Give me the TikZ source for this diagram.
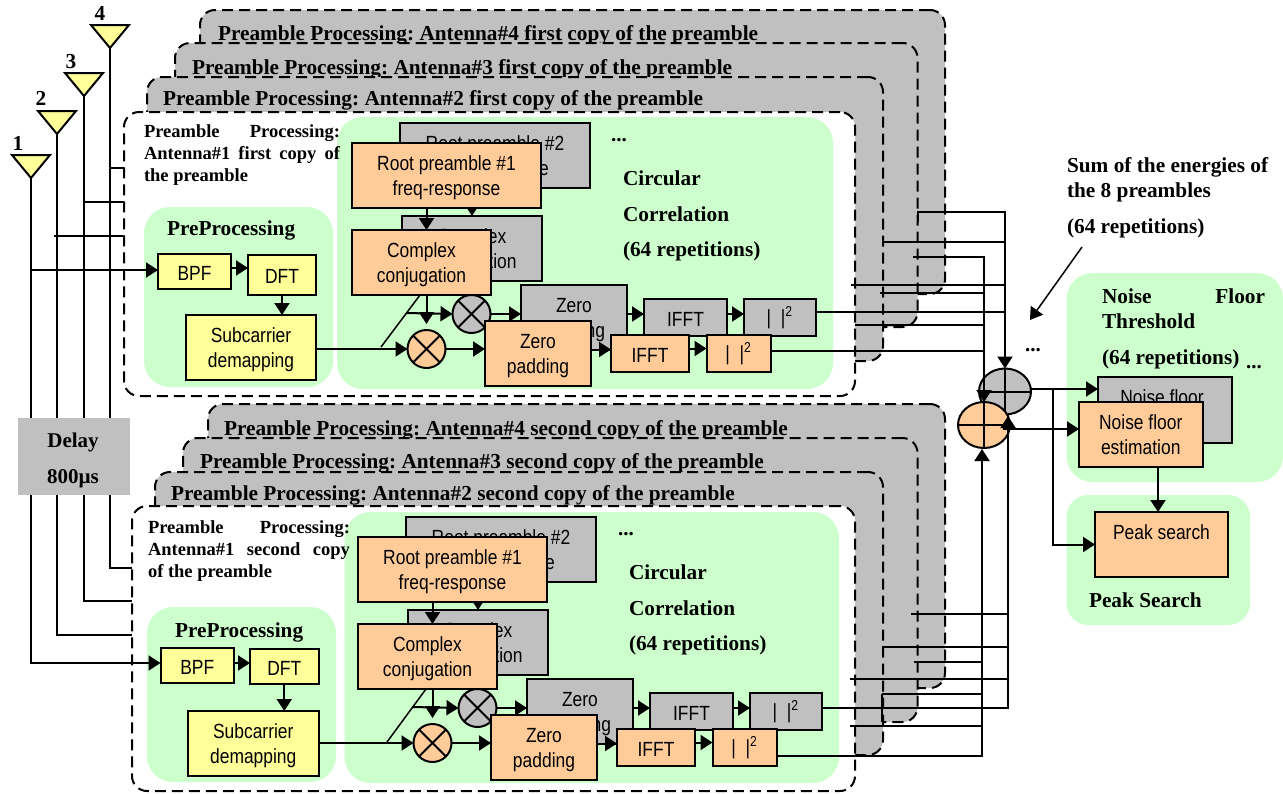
\documentclass[tikz,border=0pt]{standalone}
\usepackage{fontspec}
\setmainfont{Liberation Serif}
\newfontfamily\boxfont[FakeStretch=0.85]{Liberation Sans}
\usetikzlibrary{positioning,shapes,shapes.geometric,arrows.meta}
\definecolor{panelgrey}{HTML}{C0C0C0}
\definecolor{ltgreen}{HTML}{CCFFCC}
\definecolor{ltorange}{HTML}{FFCC99}
\definecolor{ltyellow}{HTML}{FFFF99}
\tikzset{>={Triangle[length=12pt,width=15pt]}}
\tikzset{
  panel/.style={draw,dash pattern=on 11pt off 6pt,fill=panelgrey,rounded corners=15pt,inner sep=0pt,outer sep=0pt},
  outerbox/.style={panel,fill=white},
  greenbox/.style={fill=ltgreen,rounded corners=26pt,inner sep=0pt,outer sep=0pt},
  onerow/.style={execute at begin node={\rule{0pt}{17pt}}},
  tworow/.style={execute at begin node={\rule{0pt}{44pt}}},
  block/.style={draw,inner sep=0pt,outer sep=0pt,align=center,font=\boxfont\fontsize{20.5}{25}\selectfont},
  greyblock/.style={block,fill=panelgrey},
  orangeblock/.style={block,fill=ltorange},
  yellowblock/.style={block,fill=ltyellow},
  mixer/.style={circle,draw,inner sep=0pt,outer sep=0pt,minimum size=38pt,path picture={
      \draw[-] (path picture bounding box.north west) -- (path picture bounding box.south east);
      \draw[-] (path picture bounding box.south west) -- (path picture bounding box.north east);}},
  sumnode/.style={ellipse,draw,inner sep=0pt,outer sep=0pt,minimum width=52pt,minimum height=46pt,path picture={
      \draw[-] (path picture bounding box.north) -- (path picture bounding box.south);
      \draw[-] (path picture bounding box.west) -- (path picture bounding box.east);}},
  antenna/.style={isosceles triangle,isosceles triangle stretches,shape border rotate=-90,draw,fill=ltyellow,
      minimum width=38pt,minimum height=23pt,inner sep=0pt,outer sep=0pt,anchor=apex},
  title/.style={anchor=west,inner sep=0pt,font=\frenchspacing\bfseries\fontsize{21.3}{25}\selectfont},
  small/.style={anchor=north west,inner sep=0pt,text width=196pt,align=justify,font=\bfseries\fontsize{18.5}{22}\selectfont},
  dots/.style={inner sep=0pt,font=\bfseries\fontsize{21}{25}\selectfont},
  tall/.style={title,align=left,font=\bfseries\fontsize{21.3}{35.5}\selectfont}
}

\begin{document}
\begin{tikzpicture}[->,x=1pt,y=-1pt,line width=2pt]
      \useasboundingbox (0,0) rectangle (1283,793);

      % first copy: grey panels
      \node[panel,minimum width=745pt,minimum height=284pt]   (pan4a)  at (572.5,152)  {};
      \node[title] (tit4a) at (217,35) {Preamble Processing: Antenna\#4 first copy of the preamble};
      \node[panel,minimum width=742.5pt,minimum height=284pt] (pan3a)  at (546.25,185) {};
      \node[title] (tit3a) at (191,69) {Preamble Processing: Antenna\#3 first copy of the preamble};
      \node[panel,minimum width=736pt,minimum height=284pt]   (pan2a)  at (515,219)    {};
      \node[title] (tit2a) at (162,100) {Preamble Processing: Antenna\#2 first copy of the preamble};
      \node[outerbox,minimum width=731pt,minimum height=284pt] (outa)  at (489.5,254)  {};
      \node[greenbox,minimum width=496pt,minimum height=272pt] (corra) at (585,253)    {};
      \node[greenbox,minimum width=189pt,minimum height=180pt] (prea)  at (238.5,297)  {};
      \node[small] (tit1a) at (143,124) {Preamble Processing:\linebreak Antenna\#1 first copy of\linebreak the preamble};
      \node[title] (namea) at (166,230) {PreProcessing};
      \node[tall]  (cnamea) at (622,216) {Circular\\Correlation\\(64 repetitions)};
      \node[dots]  (dota)  at (619,140) {...};

      % second copy: grey panels
      \node[panel,minimum width=737pt,minimum height=284pt]   (pan4b)  at (576.5,546)  {};
      \node[title] (tit4b) at (223,430) {Preamble Processing: Antenna\#4 second copy of the preamble};
      \node[panel,minimum width=734.5pt,minimum height=284pt] (pan3b)  at (550.25,580) {};
      \node[title] (tit3b) at (199,463) {Preamble Processing: Antenna\#3 second copy of the preamble};
      \node[panel,minimum width=728pt,minimum height=283pt]   (pan2b)  at (519,613.5)  {};
      \node[title] (tit2b) at (170,495) {Preamble Processing: Antenna\#2 second copy of the preamble};
      \node[outerbox,minimum width=723pt,minimum height=285pt] (outb)  at (493.5,648.5) {};
      \node[greenbox,minimum width=494.5pt,minimum height=271pt] (corrb) at (591.75,647.5) {};
      \node[greenbox,minimum width=189pt,minimum height=175pt] (preb)  at (241.5,694.5) {};
      \node[small,text width=202pt] (tit1b) at (147,520) {Preamble Processing:\linebreak Antenna\#1 second copy\linebreak of the preamble};
      \node[title] (nameb) at (174,632) {PreProcessing};
      \node[tall]  (cnameb) at (628,610) {Circular\\Correlation\\(64 repetitions)};
      \node[dots]  (dotb)  at (626,534) {...};

      % right hand side
      \node[greenbox,minimum width=216.5pt,minimum height=209pt] (noisebg) at (1174.75,377.5) {};
      \node[greenbox,rounded corners=22pt,minimum width=183.5pt,minimum height=130pt] (peakbg) at (1158.25,560) {};
      \node[small,text width=163pt,font=\bfseries\fontsize{21.3}{25}\selectfont] (noisename) at (1101,288) {Noise Floor\linebreak Threshold};
      \node[title] (noiserep) at (1101,359) {(64 repetitions)};
      \node[title] (peakname) at (1088,600) {Peak Search};
      \node[title,align=left] (sumname) at (1066,180) {Sum of the energies of\\the 8 preambles};
      \node[title] (sumrep) at (1066,228) {(64 repetitions)};
      \node[dots] (dotsum) at (1033,350) {...};
      \node[dots] (dotnoise) at (1254,367) {...};

      % antennas and feed lines
      \node[antenna] (ant1) at (31,178) {};
      \node[antenna] (ant2) at (57,134) {};
      \node[antenna] (ant3) at (84,96)  {};
      \node[antenna] (ant4) at (110,48) {};
      \node[title,anchor=center] (num1) at (18,143) {1};
      \node[title,anchor=center] (num2) at (41,98)  {2};
      \node[title,anchor=center] (num3) at (71,62)  {3};
      \node[title,anchor=center] (num4) at (100,13) {4};

      \coordinate (in4a) at (124,168);
      \coordinate (in3a) at (124,202);
      \coordinate (in2a) at (124,236);
      \coordinate (in2s) at (54,236);
      \coordinate (in4b) at (132,568);
      \coordinate (in3b) at (132,601);
      \coordinate (in2b) at (132,635);

      % first copy: grey chain
      \node[greyblock,tworow,minimum width=190pt,minimum height=65pt] (rootgrya) at (495,155.5) {Root preamble \#2\\freq-response};
      \node[greyblock,tworow,minimum width=140pt,minimum height=65pt] (cplxgrya) at (472,248.5) {Complex\\conjugation};
      \node[greyblock,tworow,minimum width=106pt,minimum height=65pt] (zerogrya) at (574,317.5) {Zero\\padding};
      \node[greyblock,onerow,minimum width=83pt,minimum height=37pt]  (ifftgrya) at (685.5,317.5) {IFFT};
      \node[greyblock,onerow,minimum width=71.5pt,minimum height=37pt] (maggrya) [right of=ifftgrya,node distance=94.25pt] {|~~|\textsuperscript{2}};
      \node[mixer,fill=panelgrey] (mixgrya) at (471.5,314) {};
      \path (rootgrya.south -| cplxgrya.north) edge (cplxgrya.north)
            (mixgrya.east) edge (mixgrya.east -| zerogrya.west)
            (zerogrya.east |- mixgrya.east) edge (mixgrya.east -| ifftgrya.west)
            (ifftgrya.east |- mixgrya.east) edge (mixgrya.east -| maggrya.west);

      % first copy: front chain
      \node[yellowblock,onerow,minimum width=73pt,minimum height=35pt]  (bpfa) at (194.5,271.5) {BPF};
      \node[yellowblock,onerow,minimum width=68pt,minimum height=40pt]  (dfta) at (282,275)     {DFT};
      \node[yellowblock,tworow,minimum width=130pt,minimum height=65pt] (suba) at (251,347.5)   {Subcarrier\\demapping};
      \node[orangeblock,tworow,minimum width=189pt,minimum height=65pt] (roota) at (446.5,175.5) {Root preamble \#1\\freq-response};
      \node[orangeblock,tworow,minimum width=139pt,minimum height=65pt] (cplxa) at (421.5,262.5) {Complex\\conjugation};
      \node[orangeblock,tworow,minimum width=106pt,minimum height=65pt] (zeroa) at (538,353.5)   {Zero\\padding};
      \node[orangeblock,onerow,minimum width=78pt,minimum height=37pt]  (iffta) at (650,353.5)   {IFFT};
      \node[orangeblock,onerow,minimum width=64pt,minimum height=37pt]  (maga) [right of=iffta,node distance=88.5pt] {|~~|\textsuperscript{2}};
      \node[mixer,fill=ltorange] (mixa) at (426.5,349) {};
      \coordinate (diagtopa) at (420,295);
      \coordinate (diagbota) at (381,347);
      \coordinate (diagmida) at (406,313);
      \path (bpfa.east |- 0,268) edge (dfta.west |- 0,268)
            (dfta.south) edge (dfta.south |- suba.north)
            (suba.east |- mixa.west) edge (mixa.west)
            (roota.south -| mixa.north) edge (cplxa.north -| mixa.north)
            (cplxa.south -| mixa.north) edge[shorten >=6pt] (mixa.north)
            (mixa.east) edge (mixa.east -| zeroa.west)
            ([yshift=4pt]zeroa.east) edge ([yshift=4pt]iffta.west)
            ([yshift=5pt]iffta.east) edge ([yshift=5pt]maga.west);
      \draw[-,line width=1.5pt] (diagbota) -- (diagtopa);
      \draw (diagmida) -- (mixgrya.west);

      % second copy: grey chain
      \node[greyblock,tworow,minimum width=190pt,minimum height=65pt] (rootgryb) at (501,549.5) {Root preamble \#2\\freq-response};
      \node[greyblock,tworow,minimum width=140pt,minimum height=65pt] (cplxgryb) at (478,642.5) {Complex\\conjugation};
      \node[greyblock,tworow,minimum width=106pt,minimum height=65pt] (zerogryb) at (580,711.5) {Zero\\padding};
      \node[greyblock,onerow,minimum width=83pt,minimum height=37pt]  (ifftgryb) at (691.5,711.5) {IFFT};
      \node[greyblock,onerow,minimum width=71.5pt,minimum height=37pt] (maggryb) [right of=ifftgryb,node distance=94.25pt] {|~~|\textsuperscript{2}};
      \node[mixer,fill=panelgrey] (mixgryb) at (477.5,708) {};
      \path (rootgryb.south -| cplxgryb.north) edge (cplxgryb.north)
            (mixgryb.east) edge (mixgryb.east -| zerogryb.west)
            (zerogryb.east |- mixgryb.east) edge (mixgryb.east -| ifftgryb.west)
            (ifftgryb.east |- mixgryb.east) edge (mixgryb.east -| maggryb.west);

      % second copy: front chain
      \node[yellowblock,onerow,minimum width=73.5pt,minimum height=35pt] (bpfb) at (197.25,665.5) {BPF};
      \node[yellowblock,onerow,minimum width=68.5pt,minimum height=35pt] (dftb) at (284.25,666.5) {DFT};
      \node[yellowblock,tworow,minimum width=130.5pt,minimum height=65pt] (subb) at (253.25,743.5) {Subcarrier\\demapping};
      \node[orangeblock,tworow,minimum width=189pt,minimum height=65pt] (rootb) at (452.5,569.5) {Root preamble \#1\\freq-response};
      \node[orangeblock,tworow,minimum width=139pt,minimum height=65pt] (cplxb) at (427.5,656.5) {Complex\\conjugation};
      \node[orangeblock,tworow,minimum width=106pt,minimum height=65pt] (zerob) at (544,747.5)   {Zero\\padding};
      \node[orangeblock,onerow,minimum width=78pt,minimum height=37pt]  (ifftb) at (656,747.5)   {IFFT};
      \node[orangeblock,onerow,minimum width=64pt,minimum height=37pt]  (magb) [right of=ifftb,node distance=88.5pt] {|~~|\textsuperscript{2}};
      \node[mixer,fill=ltorange] (mixb) at (432.5,743) {};
      \coordinate (diagtopb) at (426,689);
      \coordinate (diagbotb) at (387,742);
      \coordinate (diagmidb) at (412,707);
      \path (bpfb.east |- 0,663) edge (dftb.west |- 0,663)
            (dftb.south) edge (dftb.south |- subb.north)
            (subb.east |- mixb.west) edge (mixb.west)
            (rootb.south -| mixb.north) edge (cplxb.north -| mixb.north)
            (cplxb.south -| mixb.north) edge[shorten >=6pt] (mixb.north)
            (mixb.east) edge (mixb.east -| zerob.west)
            ([yshift=4pt]zerob.east) edge ([yshift=4pt]ifftb.west)
            ([yshift=5pt]ifftb.east) edge ([yshift=5pt]magb.west);
      \draw[-,line width=1.5pt] (diagbotb) -- (diagtopb);
      \draw (diagmidb) -- (mixgryb.west);

      % antenna feeds
      \coordinate (in1a) at (153,270);
      \coordinate (in1b) at (160,663);
      \draw[-] (ant4.apex) |- (in4b);
      \draw[-] (ant3.apex) |- (in3b);
      \draw[-] (ant2.apex) |- (in2b);
      \draw    (ant1.apex) |- (in1b -| bpfb.west);
      \draw    (ant1.apex |- in1a) -- (in1a -| bpfa.west);
      \path[-] (ant4.apex |- in4a) edge (in4a)
               (ant3.apex |- in3a) edge (in3a)
               (in2s) edge (in2a);
      \node[fill=panelgrey,inner sep=0pt,minimum width=112pt,minimum height=77pt] (delay) at (74,456.5) {};
      \node[align=center,inner sep=0pt,font=\bfseries\fontsize{21}{36}\selectfont] (delaytxt) at (73,460.5) {Delay\\800µs};

      % summing nodes
      \node[sumnode,fill=panelgrey] (sumgry) at (1005,391.5) {};
      \node[sumnode,fill=ltorange]  (sumor)  at (984,425) {};

      % noise floor and peak search
      \node[greyblock,minimum width=134pt,minimum height=66pt]   (noisegry) at (1165,410) {Noise floor\hspace*{6pt}\\estimation\hspace*{6pt}};
      \node[orangeblock,minimum width=123.5pt,minimum height=65pt] (noiseor) at (1140.75,434.5) {Noise floor\\estimation};
      \node[orangeblock,minimum width=133pt,minimum height=65pt] (peak) at (1161.5,544.5) {Peak search\\\mbox{}};

      % outputs of the first copies
      \coordinate (busgry) at (1005,212);
      \coordinate (busor)  at (984,257);
      \coordinate (tapa1) at (918,222);
      \coordinate (tapa2) at (883,242);
      \coordinate (tapa3) at (913,257);
      \coordinate (tapa4) at (851,285);
      \coordinate (tapa5) at (880,293);
      \coordinate (tapa7) at (855,325);
      \draw (tapa1) |- (busgry) -- (sumgry.north);
      \draw (tapa3) -- (busor) -- (sumor.north);
      \path[-] (tapa2) edge (tapa2 -| busgry)
               (tapa4) edge (tapa4 -| busgry)
               ([yshift=5.5pt]maggrya.east) edge ([yshift=5.5pt]maggrya.east -| busgry)
               (tapa5) edge (tapa5 -| busor)
               (tapa7) edge (tapa7 -| busor)
               ([yshift=2.5pt]maga.east) edge ([yshift=2.5pt]maga.east -| busor);

      % outputs of the second copies
      \coordinate (busgryb) at (1008,416);
      \coordinate (busorb)  at (982,449);
      \coordinate (tapb1) at (911,614);
      \coordinate (tapb2) at (882,647);
      \coordinate (tapb3) at (913.5,662);
      \coordinate (tapb4) at (850,679);
      \coordinate (tapb5) at (882,722);
      \coordinate (tapb6) at (882,694);
      \coordinate (tapb7) at (850,726);
      \draw ([yshift=3.5pt]maggryb.east) -| (busgryb);
      \draw ([yshift=-8.5pt]magb.east) -| (busorb);
      \path[-] (tapb1) edge (tapb1 -| busgryb)
               (tapb2) edge (tapb2 -| busgryb)
               (tapb4) edge (tapb4 -| busgryb)
               (tapb3) edge (tapb3 -| busorb)
               (tapb5) edge (tapb6)
               (tapb6) edge (tapb6 -| busorb)
               (tapb7) edge (tapb7 -| busorb);

      % to the estimator and the peak search
      \coordinate (splitout) at (1053,389);
      \coordinate (sumout)   at (1003,429);
      \coordinate (peakin)   at (1158,512);
      \coordinate (sumtext)  at (1082,247);
      \coordinate (sumtip)   at (1030,320);
      \draw (sumgry.east |- splitout) -- (splitout -| noisegry.west);
      \draw (sumout) -- (sumout -| noiseor.west);
      \draw (splitout) |- (peak.west);
      \draw (peakin |- noiseor.south) -- (peakin);
      \draw[line width=1.5pt] (sumtext) -- (sumtip);
    \end{tikzpicture}
\end{document}
